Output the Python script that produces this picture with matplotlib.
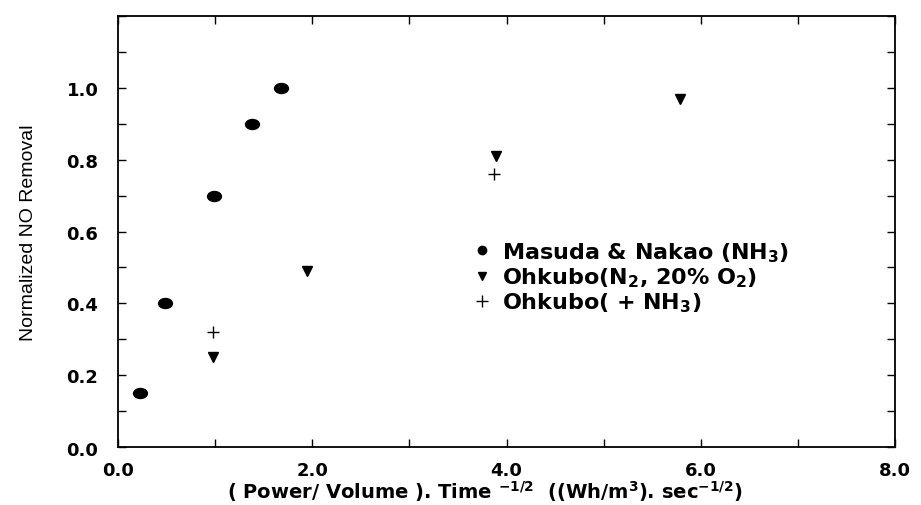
import matplotlib
matplotlib.use("Agg")
import matplotlib.pyplot as plt
from matplotlib.ticker import MultipleLocator
from matplotlib.lines import Line2D
from matplotlib.path import Path

# data
masuda_x = [0.23, 0.49, 0.99, 1.38, 1.68]
masuda_y = [0.15, 0.40, 0.70, 0.90, 1.00]
ohkubo_n2_x = [0.98, 1.95, 3.89, 5.78]
ohkubo_n2_y = [0.25, 0.49, 0.81, 0.97]
ohkubo_nh3_x = [0.98, 3.87]
ohkubo_nh3_y = [0.32, 0.76]

labels = ['Masuda & Nakao (NH$_3$)',
          'Ohkubo(N$_2$, 20% O$_2$)',
          'Ohkubo( + NH$_3$)']

plt.rcParams['font.family'] = ['DejaVu Sans']
plt.rcParams['mathtext.default'] = 'regular'

# flattened dot, like the printed markers
circ = Path.unit_circle()
dot = Path(circ.vertices * [1.0, 0.72], circ.codes)

fig = plt.figure(figsize=(9.21, 5.06), dpi=100)
ax = fig.add_axes([0.128, 0.115, 0.844, 0.851])

ax.plot(masuda_x, masuda_y, marker=dot, color='black', markersize=10, linestyle='none')
ax.plot(ohkubo_n2_x, ohkubo_n2_y, 'v', color='black', markersize=7, linestyle='none')
ax.plot(ohkubo_nh3_x, ohkubo_nh3_y, '+', color='black', markersize=9,
        markeredgewidth=1.0, linestyle='none')

ax.set_xlim(0, 8)
ax.set_ylim(0, 1.2)
ax.xaxis.set_minor_locator(MultipleLocator(1.0))
ax.yaxis.set_minor_locator(MultipleLocator(0.1))
ax.set_xticks([0, 2, 4, 6, 8])
ax.set_xticklabels(['0.0', '2.0', '4.0', '6.0', '8.0'])
ax.set_yticks([0.2, 0.4, 0.6, 0.8, 1.0])
ax.set_yticklabels(['0.2', '0.4', '0.6', '0.8', '1.0'])

ax.tick_params(which='both', direction='in', top=True, right=True,
               length=6, width=1)
ax.tick_params(axis='x', pad=10, labelsize=13)
ax.tick_params(axis='y', pad=14, labelsize=13)
for lab in ax.get_xticklabels() + ax.get_yticklabels():
    lab.set_fontweight('bold')
for s in ax.spines.values():
    s.set_linewidth(1.3)

# the y "0.0" sits beside the corner
ax.text(-0.2, -0.01, '0.0', transform=ax.transData, ha='right', va='center',
        fontsize=13, fontweight='bold')

ax.set_ylabel('Normalized NO Removal', fontsize=14,
              family=['Liberation Sans Narrow', 'Liberation Sans', 'DejaVu Sans'])
ax.yaxis.set_label_coords(-0.104, 0.5)
ax.set_xlabel('( Power/ Volume ). Time $^{-1/2}$  ((Wh/m$^3$). sec$^{-1/2}$)',
              fontsize=14, fontweight='bold')
ax.xaxis.set_label_coords(0.472, -0.072)

handles = [Line2D([], [], marker='o', color='black', linestyle='none', markersize=6),
           Line2D([], [], marker='v', color='black', linestyle='none', markersize=6),
           Line2D([], [], marker='+', color='black', linestyle='none', markersize=9,
                  markeredgewidth=1.0)]
leg = ax.legend(handles, labels, loc='upper left', bbox_to_anchor=(0.449, 0.501),
                frameon=False, fontsize=16, handlelength=0.6, handletextpad=0.6,
                labelspacing=0.08, borderaxespad=0)
for t in leg.get_texts():
    t.set_fontweight('bold')

fig.savefig('out.png', dpi=100)
